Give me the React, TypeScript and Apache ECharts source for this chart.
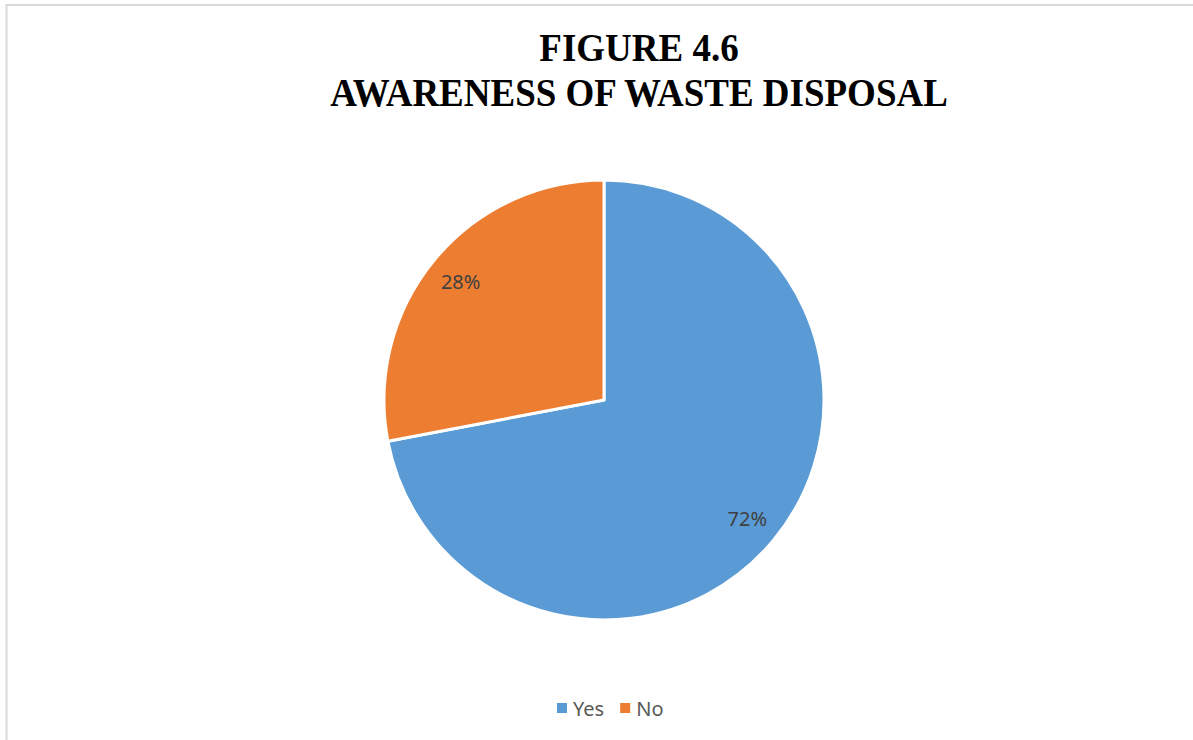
import React, { useEffect, useRef } from "react";
import * as echarts from "echarts";

const titleLines = ["FIGURE 4.6", "AWARENESS OF WASTE DISPOSAL"];
const categories = ["Yes", "No"];
const values = [72, 28];
const colors = ["#5B9BD5", "#ED7D31"];

export default function App() {
  const ref = useRef<HTMLDivElement>(null);
  useEffect(() => {
    if (!ref.current) return;
    const chart = echarts.init(ref.current, undefined, { renderer: "svg" });
    const data = categories.map((c, i) => ({ name: c, value: values[i] }));
    chart.setOption({
      animation: false,
      backgroundColor: "#ffffff",
      color: colors,
      legend: {
        data: categories,
        left: 550,
        top: 693,
        icon: "rect",
        itemWidth: 12,
        itemHeight: 12,
        itemGap: 14,
        textStyle: { color: "#595959", fontSize: 20, fontFamily: "Noto Sans", padding: [0, 0, 0, 0] },
      },
      graphic: [
        {
          type: "rect",
          shape: { x: 6.5, y: 5, width: 1400, height: 900 },
          style: { fill: "none", stroke: "#d9d9d9", lineWidth: 2 },
          silent: true,
        },
        ...titleLines.map((t, i) => ({
          type: "text",
          x: 639,
          y: 48 + i * 45,
          scaleX: 0.925,
          style: {
            text: t,
            fill: "#000000",
            font: "bold 40px 'Liberation Serif', 'Times New Roman', serif",
            textAlign: "center",
            textVerticalAlign: "middle",
          },
        })),
      ],
      series: [
        {
          type: "pie",
          center: [604, 400],
          radius: [0, 220],
          startAngle: 90,
          clockwise: true,
          data,
          label: { show: false },
          labelLine: { show: false },
          itemStyle: { borderColor: "#ffffff", borderWidth: 3 },
          emphasis: { disabled: true },
          silent: true,
        },
        {
          type: "pie",
          center: [604, 400],
          radius: [146, 220],
          startAngle: 90,
          clockwise: true,
          data,
          legendHoverLink: false,
          itemStyle: { color: "rgba(0,0,0,0)", borderWidth: 0 },
          label: {
            show: true,
            position: "inside",
            formatter: (p: any) => p.value + "%",
            color: "#404040",
            fontSize: 20,
            fontFamily: "Noto Sans",
          },
          labelLine: { show: false },
          emphasis: { disabled: true },
          silent: true,
        },
      ],
    });
    return () => chart.dispose();
  }, []);
  return (
    <div
      ref={ref}
      style={{ position: "absolute", left: 0, top: 0, width: 1193, height: 740 }}
    />
  );
}
